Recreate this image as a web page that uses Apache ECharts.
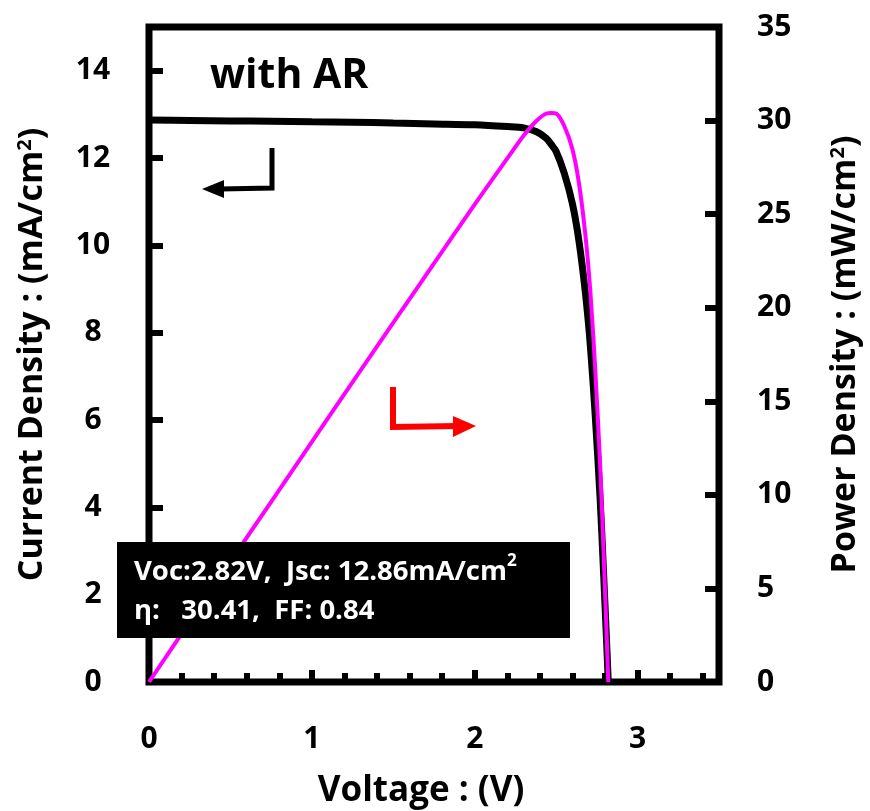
<!DOCTYPE html>
<html>
<head>
<meta charset="utf-8">
<script src="https://cdn.jsdelivr.net/npm/echarts@6/dist/echarts.min.js"></script>
<style>
  html, body { margin: 0; padding: 0; background: #fff; }
  #chart { width: 870px; height: 811px; }
</style>
</head>
<body>
<div id="chart"></div>
<script>
// values
const voltage = [0, 0.25, 0.5, 0.75, 1.0, 1.25, 1.5, 1.75, 2.0, 2.2, 2.3, 2.38, 2.44, 2.47, 2.5, 2.55, 2.6, 2.64, 2.68, 2.71, 2.74, 2.77, 2.79, 2.81, 2.82];
const currentDensity = [12.87, 12.86, 12.85, 12.84, 12.83, 12.82, 12.80, 12.78, 12.76, 12.72, 12.69, 12.60, 12.45, 12.31, 12.15, 11.65, 10.95, 10.1, 8.9, 7.7, 6.1, 4.2, 2.6, 0.9, 0];
const powerDensity = [0, 3.22, 6.43, 9.63, 12.83, 16.03, 19.20, 22.37, 25.52, 27.98, 29.19, 29.99, 30.38, 30.41, 30.38, 29.71, 28.47, 26.66, 23.85, 20.87, 16.71, 11.63, 7.25, 2.53, 0];
const xTicks = [0, 1, 2, 3];
const leftTicks = [0, 2, 4, 6, 8, 10, 12, 14];
const rightTicks = [0, 5, 10, 15, 20, 25, 30, 35];

const FONT = '"Open Sans", Lato, sans-serif';

let jv = voltage.map((v, i) => [v, currentDensity[i]]);
let pv = voltage.map((v, i) => [v, powerDensity[i]]);

let chart = echarts.init(document.getElementById("chart"));
chart.setOption({
  animation: false,
  grid: {
    left: 149,
    right: 151,
    top: 27,
    bottom: 129,
    outerBoundsMode: "none",
    show: true,
    borderColor: "#000",
    borderWidth: 7,
  },
  xAxis: {
    type: "value",
    min: 0,
    max: 3.5,
    interval: 1,
    name: "Voltage : (V)",
    nameLocation: "middle",
    nameGap: 92,
    nameTextStyle: { color: "#000", fontSize: 35, fontWeight: "bold", fontFamily: FONT, padding: [0, 26, 0, 0] },
    axisLine: { show: false },
    axisTick: { show: true, inside: true, length: 12, lineStyle: { color: "#000", width: 6 } },
    minorTick: { show: true, splitNumber: 5, length: 9, lineStyle: { color: "#000", width: 6 } },
    splitLine: { show: false },
    axisLabel: {
      color: "#000",
      fontSize: 30,
      fontWeight: "bold",
      fontFamily: FONT,
      margin: 42,
      showMaxLabel: false,
      formatter: (v) => (xTicks.includes(v) ? String(v) : ""),
    },
  },
  yAxis: [
    {
      type: "value",
      position: "left",
      min: 0,
      max: 15,
      interval: 2,
      name: "{a|Current Density : (mA/cm}{s|2}{a|)}",
      nameLocation: "middle",
      nameGap: 100,
      nameTextStyle: {
        rich: {
          a: { color: "#000", fontSize: 34, fontWeight: "bold", fontFamily: FONT },
          s: { color: "#000", fontSize: 20, fontWeight: "bold", fontFamily: FONT, verticalAlign: "top", padding: [0, 0, 14, 0] },
        },
      },
      axisLine: { show: false },
      axisTick: { show: true, inside: true, length: 14, lineStyle: { color: "#000", width: 6 } },
      splitLine: { show: false },
      axisLabel: {
        color: "#000",
        fontSize: 30,
        fontWeight: "bold",
        fontFamily: FONT,
        margin: 56,
        align: "center",
        formatter: (v) => (leftTicks.includes(v) ? String(v) : ""),
      },
    },
    {
      type: "value",
      position: "right",
      min: 0,
      max: 35,
      interval: 5,
      name: "{a|Power Density : (mW/cm}{s|2}{a|)}",
      nameLocation: "middle",
      nameGap: 109,
      nameRotate: 90,
      nameTextStyle: {
        rich: {
          a: { color: "#000", fontSize: 34, fontWeight: "bold", fontFamily: FONT },
          s: { color: "#000", fontSize: 20, fontWeight: "bold", fontFamily: FONT, verticalAlign: "top", padding: [0, 0, 14, 0] },
        },
      },
      axisLine: { show: false },
      axisTick: { show: true, inside: true, length: 14, lineStyle: { color: "#000", width: 6 } },
      splitLine: { show: false },
      axisLabel: {
        color: "#000",
        fontSize: 30,
        fontWeight: "bold",
        fontFamily: FONT,
        margin: 38,
        align: "left",
        formatter: (v) => (rightTicks.includes(v) ? String(v) : ""),
      },
    },
  ],
  series: [
    {
      name: "J",
      type: "line",
      yAxisIndex: 0,
      data: jv,
      smooth: 0.3,
      showSymbol: false,
      lineStyle: { color: "#000", width: 7 },
      z: 2,
    },
    {
      name: "P",
      type: "line",
      yAxisIndex: 1,
      data: pv,
      smooth: 0.3,
      showSymbol: false,
      lineStyle: { color: "#ff00ff", width: 4 },
      z: 3,
    },
  ],
  graphic: [
    {
      type: "text",
      left: 210,
      top: 56,
      style: { text: "with AR", fill: "#000", font: "bold 41px " + FONT },
    },
    // left-pointing black arrow
    {
      type: "polyline",
      shape: { points: [[272, 148], [272, 188], [220, 189]] },
      style: { stroke: "#000", lineWidth: 5, fill: null },
    },
    {
      type: "polygon",
      shape: { points: [[202, 189], [224, 180], [224, 198]] },
      style: { fill: "#000" },
    },
    // right-pointing red arrow
    {
      type: "polyline",
      shape: { points: [[393, 387], [393, 427], [458, 426]] },
      style: { stroke: "#ff0000", lineWidth: 6, fill: null },
    },
    {
      type: "polygon",
      shape: { points: [[476, 426], [453, 416], [453, 437]] },
      style: { fill: "#ff0000" },
    },
    // info box
    {
      type: "rect",
      shape: { x: 117, y: 542, width: 453, height: 96 },
      style: { fill: "#000" },
      z: 10,
    },
    {
      type: "text",
      left: 134,
      top: 553,
      z: 11,
      style: {
        text: "{a|Voc:2.82V,  Jsc: 12.86mA/cm}{s|2}\n{a|η:   30.41,  FF: 0.84}",
        rich: {
          a: { fill: "#fff", font: "bold 27.5px " + FONT, lineHeight: 39 },
          s: { fill: "#fff", font: "bold 17px " + FONT, verticalAlign: "top", lineHeight: 39, padding: [0, 0, 12, 0] },
        },
      },
    },
  ],
});
</script>
</body>
</html>
